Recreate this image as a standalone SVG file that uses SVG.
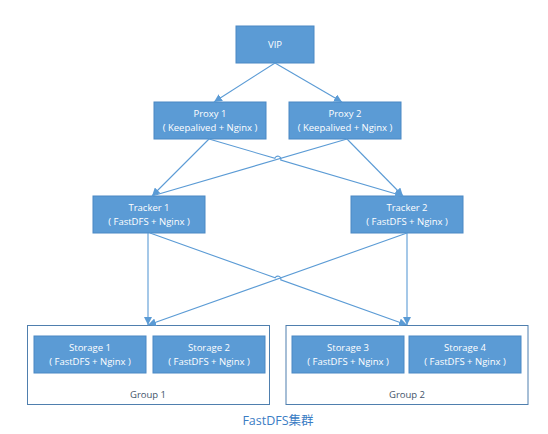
<svg xmlns="http://www.w3.org/2000/svg" width="548" height="434" viewBox="0 0 548 434">
<defs>
<marker id="ah" viewBox="0 0 10 10" refX="10" refY="5" markerWidth="8" markerHeight="8" markerUnits="userSpaceOnUse" orient="auto">
<path d="M0,0 L10,5 L0,10 z" fill="#5b9bd5"/>
</marker>
<style>
.box{fill:#5b9bd5;stroke:#4a88c4;stroke-width:1}
.grp{fill:#fff;stroke:#4f7fae;stroke-width:1}
.t{font-family:"Open Sans","Liberation Sans",sans-serif;font-size:9.5px;fill:#fff;text-anchor:middle}
.g{font-family:"Open Sans","Liberation Sans",sans-serif;font-size:9.5px;fill:#44546a;text-anchor:middle}
.c{fill:none;stroke:#5b9bd5;stroke-width:1.1}
</style>
</defs>
<rect width="548" height="434" fill="#fff"/>
<g id="group1"><rect class="grp" x="27.5" y="325.5" width="242" height="79"/><text class="g" x="148" y="398">Group 1</text></g>
<g id="group2"><rect class="grp" x="286" y="325.5" width="242" height="79"/><text class="g" x="407" y="398">Group 2</text></g>
<g id="vip"><rect class="box" x="236" y="26" width="78" height="37"/><text class="t" x="275" y="48">VIP</text></g>
<g id="proxy1"><rect class="box" x="154" y="102" width="112" height="37"/><text class="t" x="210" y="117">Proxy 1</text><text class="t" x="210" y="131">( Keepalived + Nginx )</text></g>
<g id="proxy2"><rect class="box" x="289" y="102" width="112" height="37"/><text class="t" x="345" y="117">Proxy 2</text><text class="t" x="345" y="131">( Keepalived + Nginx )</text></g>
<g id="tracker1"><rect class="box" x="93" y="196" width="112" height="37"/><text class="t" x="149" y="211">Tracker 1</text><text class="t" x="149" y="225">( FastDFS + Nginx )</text></g>
<g id="tracker2"><rect class="box" x="351" y="196" width="112" height="37"/><text class="t" x="407" y="211">Tracker 2</text><text class="t" x="407" y="225">( FastDFS + Nginx )</text></g>
<g id="storage1"><rect class="box" x="34" y="336" width="112" height="37"/><text class="t" x="90" y="351">Storage 1</text><text class="t" x="90" y="365">( FastDFS + Nginx )</text></g>
<g id="storage2"><rect class="box" x="153" y="336" width="112" height="37"/><text class="t" x="209" y="351">Storage 2</text><text class="t" x="209" y="365">( FastDFS + Nginx )</text></g>
<g id="storage3"><rect class="box" x="292" y="336" width="112" height="37"/><text class="t" x="348" y="351">Storage 3</text><text class="t" x="348" y="365">( FastDFS + Nginx )</text></g>
<g id="storage4"><rect class="box" x="409" y="336" width="112" height="37"/><text class="t" x="465" y="351">Storage 4</text><text class="t" x="465" y="365">( FastDFS + Nginx )</text></g>
<g id="connectors">
<path class="c" d="M275,63 L214,102" marker-end="url(#ah)"/>
<path class="c" d="M275,63 L342,102" marker-end="url(#ah)"/>
<path class="c" d="M209,139 L152,196" marker-end="url(#ah)"/>
<path class="c" d="M347,139 L403,196" marker-end="url(#ah)"/>
<path class="c" d="M347,139 L152,196"/>
<path class="c" d="M209,139 L274.9,158.35 A3,3 0 0 1 280.7,160.05 L403,196" marker-end="url(#ah)"/>
<path class="c" d="M148,233 L148,325" marker-end="url(#ah)"/>
<path class="c" d="M407,233 L407,325" marker-end="url(#ah)"/>
<path class="c" d="M407,233 L148,325" marker-end="url(#ah)"/>
<path class="c" d="M150,233 L275.2,277.8 A3,3 0 0 1 280.8,279.8 L407,325" marker-end="url(#ah)"/>
</g>
<text x="278" y="425" font-family="'Open Sans','Liberation Sans','Noto Sans CJK SC',sans-serif" font-size="12.5" fill="#3b7dc4" text-anchor="middle">FastDFS集群</text>
</svg>
